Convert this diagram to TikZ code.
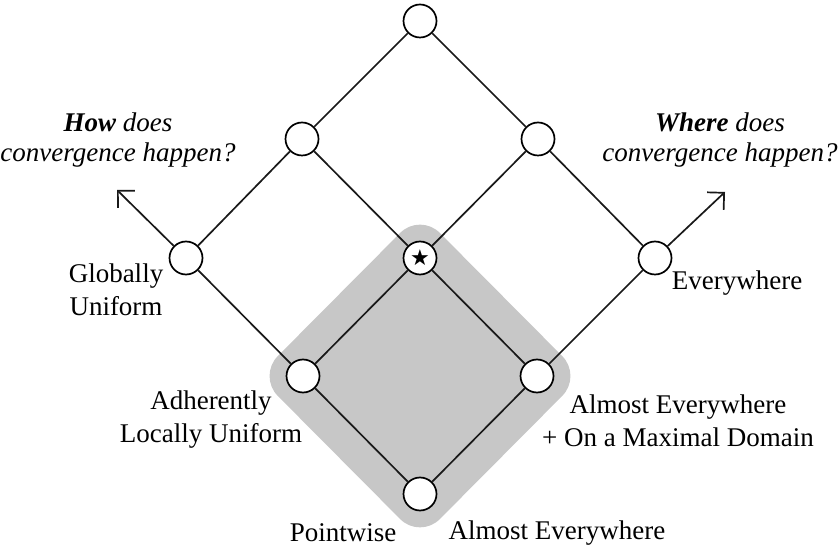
\documentclass[tikz,border=0pt]{standalone}
\usepackage{fontspec}
\setmainfont{Liberation Serif}
\newfontfamily\symfont{DejaVu Sans}
\usetikzlibrary{arrows.meta, calc, backgrounds}

\begin{document}
\begin{tikzpicture}[
    x=0.5pt, y=-0.5pt,
    dot/.style={draw, circle, fill=white, line width=0.85pt, minimum size=16.5pt, inner sep=0pt},
    edge/.style={line width=0.85pt, draw=black!90},
    axis/.style={-{Straight Barb[length=6pt, width=12pt]}, line width=0.85pt, draw=black!90},
    lbl/.style={font=\fontsize{13.5}{16.5}\selectfont, align=center, inner sep=0pt},
    qlbl/.style={font=\fontsize{13.5}{15}\selectfont\itshape, align=center, inner sep=0pt}
]
    \useasboundingbox (0,0) rectangle (839,549);

    % ================= LATTICE NODES =================
    \node[dot] (top)   at (420, 21)  {};
    \node[dot] (nw)    at (302, 139) {};
    \node[dot] (ne)    at (538, 139) {};
    \node[dot] (glob)  at (186, 258) {};
    \node[dot] (star)  at (420, 258) {\symfont\fontsize{11}{11}\selectfont ★};
    \node[dot] (every) at (655, 258) {};
    \node[dot] (adher) at (303, 376) {};
    \node[dot] (aemax) at (537, 376) {};
    \node[dot] (point) at (420, 494) {};

    % free ends of the two axes
    \coordinate (howtip)   at (117, 190);
    \coordinate (wheretip) at (725, 192);

    % ================= SHADED REGION =================
    \begin{scope}[on background layer]
        \fill[black!22, rounded corners=14pt]
            ($(adher)+(-45,0)$) -- ($(star)+(0,-45)$) -- ($(aemax)+(45,0)$) -- ($(point)+(0,45)$) -- cycle;
    \end{scope}

    % ================= EDGES =================
    \draw[edge] (top) -- (nw);
    \draw[edge] (top) -- (ne);
    \draw[edge] (nw) -- (glob);
    \draw[edge] (nw) -- (star);
    \draw[edge] (ne) -- (star);
    \draw[edge] (ne) -- (every);
    \draw[edge] (glob) -- (adher);
    \draw[edge] (star) -- (adher);
    \draw[edge] (star) -- (aemax);
    \draw[edge] (every) -- (aemax);
    \draw[edge] (adher) -- (point);
    \draw[edge] (aemax) -- (point);

    % axes
    \draw[axis] (glob) -- (howtip);
    \draw[axis] (every) -- (wheretip);

    % ================= LABELS =================
    \node[qlbl] (howlbl) at (118, 140) {\textbf{How} does\\convergence happen?};
    \node[qlbl] (wherelbl) at (720, 140) {\textbf{Where} does\\convergence happen?};

    \node[lbl] (globlbl) at (116, 290) {Globally\\Uniform};
    \node[lbl] (everylbl) at (737, 283) {Everywhere};
    \node[lbl] (adherlbl) at (211, 420) {Adherently\\Locally Uniform};
    \node[lbl] (aemaxlbl) at (678, 421) {Almost Everywhere\\+ On a Maximal Domain};
    \node[lbl] (pointlbl) at (343, 533) {Pointwise};
    \node[lbl] (aelbl) at (557, 533) {Almost Everywhere};

\end{tikzpicture}
\end{document}
